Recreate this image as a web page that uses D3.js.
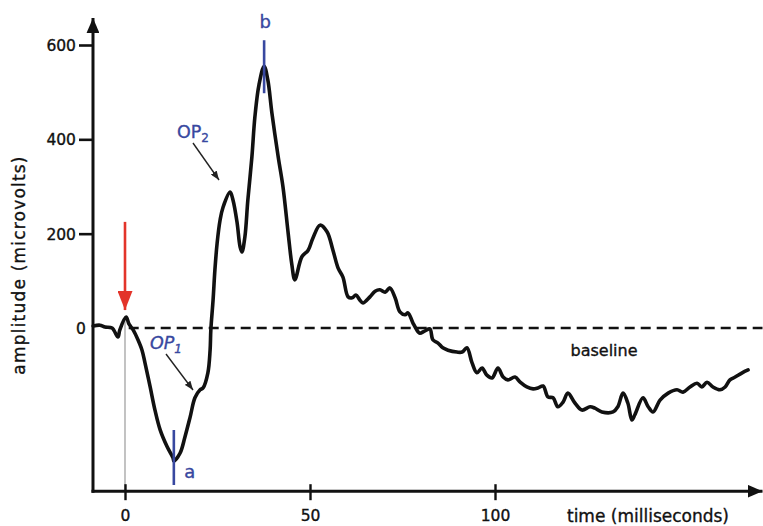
<!DOCTYPE html>
<html>
<head>
<meta charset="utf-8">
<script src="https://cdn.jsdelivr.net/npm/d3@7"></script>
<style>
  html, body { margin: 0; padding: 0; background: #fff; }
  svg text { font-family: "DejaVu Sans", "Open Sans", sans-serif; }
</style>
</head>
<body>
<svg id="chart" width="763" height="526"></svg>
<script>
// Electroretinogram trace: time after flash (ms) and amplitude (µV)
const timeMs = [
  -8.6, -6.8, -5.4, -3.5, -1.9, -1.4, 0.3, 1.1, 2.2, 3.5, 4.6, 5.4, 6.8, 8.1, 9.5,
  11.4, 13.0, 13.2, 14.9, 16.2, 17.6, 18.9, 20.3, 21.1, 22.4, 23.0, 23.2, 23.8, 24.3,
  24.9, 25.7, 26.5, 28.4, 29.2, 30.3, 31.1, 31.6, 32.4, 33.2, 34.3, 35.1, 36.2, 37.6,
  38.6, 39.7, 41.4, 42.7, 44.1, 45.1, 45.9, 47.8, 49.5, 50.8, 52.7, 54.6, 56.2, 57.6,
  58.9, 60.3, 61.4, 62.4, 63.5, 64.3, 66.2, 67.6, 68.9, 70.3, 71.6, 73.0, 74.3, 75.7,
  76.5, 77.8, 79.2, 79.7, 81.1, 82.4, 83.2, 84.6, 85.9, 87.3, 89.7, 91.1, 92.4, 93.8,
  95.1, 96.5, 97.8, 99.2, 100.8, 102.2, 103.5, 105.4, 106.8, 108.6, 110.3, 111.6,
  113.0, 114.3, 115.7, 117.0, 118.4, 119.7, 121.6, 123.5, 125.7, 127.0, 128.9, 131.9,
  133.2, 134.6, 135.9, 137.0, 137.8, 140.0, 141.4, 142.7, 144.6, 146.8, 149.2, 150.8,
  152.7, 154.6, 155.9, 157.3, 158.9, 160.8, 162.2, 163.5, 164.9, 166.8, 168.4
];
const amplitudeUv = [
  4, 6, 2, 0, -19, -4, 23, 8, -4, -25, -47, -74, -125, -174, -216,
  -252, -276, -282, -265, -231, -189, -148, -131, -127, -95, -47, -4, 59, 123,
  180, 229, 256, 288, 271, 223, 172, 161, 193, 271, 363, 447, 515, 555,
  526, 456, 363, 299, 201, 134, 102, 151, 165, 191, 218, 204, 165, 127,
  108, 66, 64, 70, 59, 53, 66, 78, 81, 76, 85, 64, 34, 28,
  32, 11, -8, -11, -6, -2, -25, -32, -42, -47, -51, -51, -42, -74,
  -95, -85, -100, -106, -85, -104, -110, -104, -115, -125, -129, -127,
  -123, -146, -148, -167, -157, -138, -159, -174, -167, -170, -178, -178,
  -167, -138, -159, -195, -184, -148, -167, -178, -153, -138, -131, -136,
  -125, -117, -125, -115, -125, -131, -125, -110, -104, -95, -89
];
const xTickValues = [0, 50, 100];
const yTickValues = [0, 200, 400, 600];
const xAxisTitle = "time (milliseconds)";
const yAxisTitle = "amplitude (microvolts)";
const baselineLabel = "baseline";
const stimulusTime = 0;

const svg = d3.select("#chart");
const ink = "#111";
const blue = "#3848a0";
const red = "#e3342a";

const x = d3.scaleLinear().domain([0, 100]).range([125, 495]);
const y = d3.scaleLinear().domain([0, 600]).range([328, 45]);

const xStart = -8.65, xEnd = 172.3;   // x-axis extent (ms)
const yBottom = -346, yTop = 657;     // y-axis extent (µV)

const defs = svg.append("defs");
function arrowMarker(id, color, w, h) {
  defs.append("marker")
    .attr("id", id).attr("viewBox", `0 0 ${w} ${h}`)
    .attr("refX", w).attr("refY", h / 2)
    .attr("markerWidth", w).attr("markerHeight", h)
    .attr("markerUnits", "userSpaceOnUse")
    .attr("orient", "auto")
    .append("path").attr("d", `M0,0 L${w},${h / 2} L0,${h} Z`).attr("fill", color);
}
arrowMarker("axisHead", ink, 15, 13);
arrowMarker("redHead", red, 19, 15);
arrowMarker("noteHead", "#222", 9, 7);

// slightly heavier strokes on text for a hand-lettered look
function heavy(sel, color) {
  return sel.attr("fill", color).attr("stroke", color).attr("stroke-width", 0.35);
}

// stimulus onset guide
svg.append("line")
  .attr("x1", x(stimulusTime)).attr("x2", x(stimulusTime))
  .attr("y1", y(20)).attr("y2", y(yBottom))
  .attr("stroke", "#9a9a9a").attr("stroke-width", 1.2);

// baseline (0 µV)
svg.append("line")
  .attr("x1", x(1)).attr("x2", x(xEnd))
  .attr("y1", y(0)).attr("y2", y(0))
  .attr("stroke", ink).attr("stroke-width", 2.6)
  .attr("stroke-dasharray", "10,6");

// axes
const yAxis = d3.axisLeft(y).tickValues(yTickValues).tickSize(14).tickPadding(4).tickFormat(d3.format("d"));
const yG = svg.append("g").attr("transform", `translate(${x(xStart)},0)`).call(yAxis);
yG.select(".domain").remove();
yG.selectAll(".tick line").attr("stroke", ink).attr("stroke-width", 2.6)
  .attr("display", d => d === 0 ? "none" : null);
heavy(yG.selectAll(".tick text"), ink).attr("font-size", 15.5)
  .attr("x", d => d === 0 ? -7 : -17)
  .attr("dy", "0.35em");

const xAxis = d3.axisBottom(x).tickValues(xTickValues).tickSize(9).tickPadding(10).tickFormat(d3.format("d"));
const xG = svg.append("g").attr("transform", `translate(0,${y(yBottom)})`).call(xAxis);
xG.select(".domain").remove();
xG.selectAll(".tick line").attr("stroke", ink).attr("stroke-width", 2.4).attr("y1", -7);
heavy(xG.selectAll(".tick text"), ink).attr("font-size", 15.5);

svg.append("line")
  .attr("x1", x(xStart)).attr("x2", x(xStart))
  .attr("y1", y(yBottom) + 1.5).attr("y2", y(yTop))
  .attr("stroke", ink).attr("stroke-width", 3)
  .attr("marker-end", "url(#axisHead)");
svg.append("line")
  .attr("x1", x(xStart) - 1.5).attr("x2", x(xEnd))
  .attr("y1", y(yBottom)).attr("y2", y(yBottom))
  .attr("stroke", ink).attr("stroke-width", 3)
  .attr("marker-end", "url(#axisHead)");

heavy(svg.append("text"), ink)
  .attr("transform", `translate(25,265) rotate(-90)`)
  .attr("text-anchor", "middle").attr("font-size", 17).attr("letter-spacing", 1.2)
  .text(yAxisTitle);
heavy(svg.append("text"), ink)
  .attr("x", 648).attr("y", 522).attr("text-anchor", "middle")
  .attr("font-size", 17)
  .text(xAxisTitle);
heavy(svg.append("text"), ink)
  .attr("x", 604).attr("y", 356).attr("text-anchor", "middle")
  .attr("font-size", 16)
  .text(baselineLabel);

// the response trace
const trace = timeMs.map((t, i) => ({ t, v: amplitudeUv[i] }));
svg.append("path")
  .datum(trace)
  .attr("fill", "none").attr("stroke", ink).attr("stroke-width", 3.6)
  .attr("stroke-linejoin", "round").attr("stroke-linecap", "round")
  .attr("d", d3.line().x(d => x(d.t)).y(d => y(d.v)).curve(d3.curveCatmullRom.alpha(0.5)));

// stimulus arrow
svg.append("line")
  .attr("x1", x(stimulusTime)).attr("x2", x(stimulusTime))
  .attr("y1", y(225)).attr("y2", y(38))
  .attr("stroke", red).attr("stroke-width", 2.6)
  .attr("marker-end", "url(#redHead)");

// a-wave trough and b-wave peak markers
const aPt = trace[d3.minIndex(trace, d => d.v)];
const bPt = trace[d3.maxIndex(trace, d => d.v)];
svg.append("line")
  .attr("x1", x(aPt.t)).attr("x2", x(aPt.t))
  .attr("y1", y(aPt.v) - 31).attr("y2", y(aPt.v) + 24)
  .attr("stroke", blue).attr("stroke-width", 2.6);
heavy(svg.append("text"), blue).attr("x", x(aPt.t) + 16).attr("y", y(aPt.v) + 17)
  .attr("text-anchor", "middle").attr("font-size", 18).text("a");
svg.append("line")
  .attr("x1", x(bPt.t)).attr("x2", x(bPt.t))
  .attr("y1", y(bPt.v) - 26).attr("y2", y(bPt.v) + 27)
  .attr("stroke", blue).attr("stroke-width", 2.6);
heavy(svg.append("text"), blue).attr("x", x(bPt.t) + 1).attr("y", y(bPt.v) - 38)
  .attr("text-anchor", "middle").attr("font-size", 18).text("b");

// oscillatory potential labels
function opLabel(px, py, sub, italic) {
  const t = heavy(svg.append("text"), blue).attr("x", px).attr("y", py)
    .attr("font-size", 17.5)
    .attr("font-style", italic ? "italic" : "normal");
  t.append("tspan").text("OP");
  t.append("tspan").attr("font-size", 12).attr("dy", 4).text(sub);
}
opLabel(177, 138, "2", false);
opLabel(150, 349, "1", true);

svg.append("line").attr("x1", 193).attr("y1", 143).attr("x2", 219).attr("y2", 180)
  .attr("stroke", "#222").attr("stroke-width", 1.4).attr("marker-end", "url(#noteHead)");
svg.append("line").attr("x1", 166).attr("y1", 354).attr("x2", 193).attr("y2", 390)
  .attr("stroke", "#222").attr("stroke-width", 1.4).attr("marker-end", "url(#noteHead)");
</script>
</body>
</html>
